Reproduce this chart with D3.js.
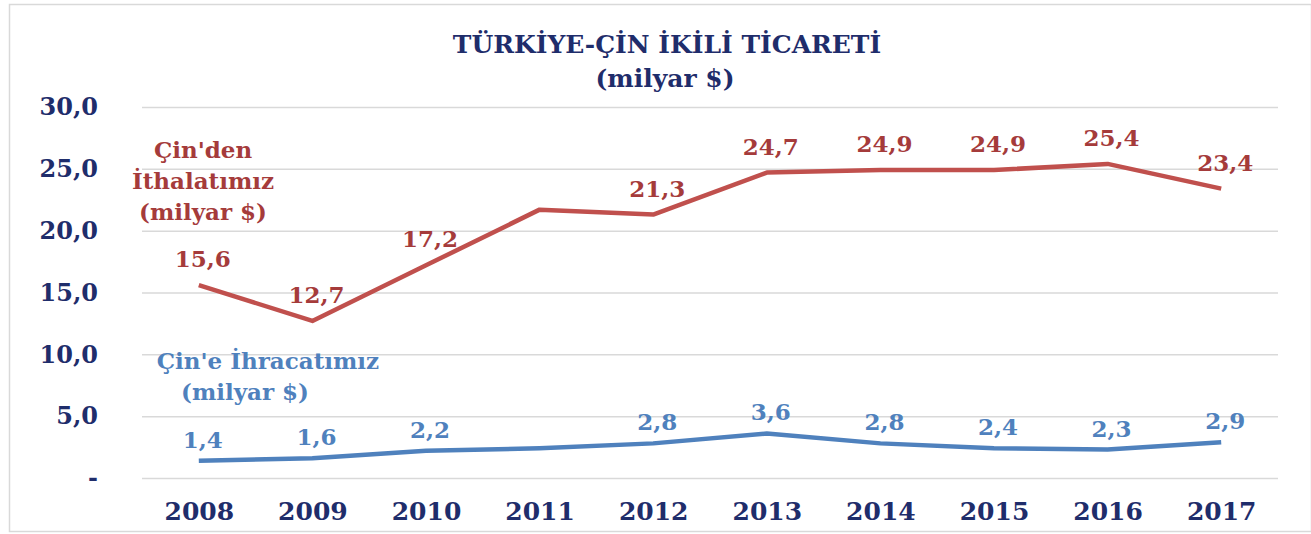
<!DOCTYPE html>
<html>
<head>
<meta charset="utf-8">
<script src="https://cdn.jsdelivr.net/npm/d3@7"></script>
<style>
  body { margin: 0; background: #fff; }
  text { font-family: "DejaVu Serif", "Liberation Serif", serif; font-weight: bold; }
</style>
</head>
<body>
<div id="chart"></div>
<script>
// Veriler
const years = ["2008", "2009", "2010", "2011", "2012", "2013", "2014", "2015", "2016", "2017"];
const imports = [15.6, 12.7, 17.2, 21.7, 21.3, 24.7, 24.9, 24.9, 25.4, 23.4];
const exportsCn = [1.4, 1.6, 2.2, 2.4, 2.8, 3.6, 2.8, 2.4, 2.3, 2.9];
const labelShown = [true, true, true, false, true, true, true, true, true, true];
const yTicks = [0, 5, 10, 15, 20, 25, 30];

const W = 1311, H = 534;
const margin = { top: 107, right: 33, bottom: 56, left: 142 };
const width = W - margin.left - margin.right,
      height = H - margin.top - margin.bottom;

const navy = "#1f2d6b", red = "#c0504d", redText = "#a53b3b", blue = "#4f81bd";

const svg = d3.select("#chart").append("svg")
    .attr("width", W).attr("height", H);

// çerçeve
svg.append("rect")
    .attr("x", 9.5).attr("y", 4.5)
    .attr("width", W - 9).attr("height", 527)
    .attr("fill", "none").attr("stroke", "#d9d9d9").attr("stroke-width", 1.5);

const g = svg.append("g").attr("transform", `translate(${margin.left},${margin.top})`);

const x = d3.scalePoint().domain(years).range([0, width]).padding(0.5);
const y = d3.scaleLinear().domain([0, 30]).range([height, 0]);

const fmt = v => v === 0 ? "-" : d3.format(".1f")(v).replace(".", ",");

// grid + y ekseni
g.append("g")
    .call(d3.axisLeft(y).tickValues(yTicks).tickSize(-width).tickFormat(fmt).tickPadding(44))
    .call(a => a.select(".domain").remove())
    .call(a => a.selectAll("line").attr("stroke", "#d9d9d9").attr("stroke-width", 1.5))
    .call(a => a.selectAll("text")
        .attr("fill", navy).style("font-size", "24px")
        .style("font-family", "DejaVu Serif").style("font-weight", "bold"));

// x ekseni
g.append("g")
    .attr("transform", `translate(0,${height})`)
    .call(d3.axisBottom(x).tickSize(0).tickPadding(24))
    .call(a => a.select(".domain").remove())
    .call(a => a.selectAll("text")
        .attr("fill", navy).style("font-size", "25px")
        .style("font-family", "DejaVu Serif").style("font-weight", "bold"));

const line = d3.line().x((d, i) => x(years[i])).y(d => y(d));

g.append("path").datum(imports)
    .attr("d", line).attr("fill", "none")
    .attr("stroke", red).attr("stroke-width", 4.5).attr("stroke-linejoin", "round");

g.append("path").datum(exportsCn)
    .attr("d", line).attr("fill", "none")
    .attr("stroke", blue).attr("stroke-width", 4.5).attr("stroke-linejoin", "round");

// değer etiketleri (2011 etiketsiz)
const impPts = imports.map((v, i) => ({ v, i })).filter(d => labelShown[d.i]);
const expPts = exportsCn.map((v, i) => ({ v, i })).filter(d => labelShown[d.i]);

g.selectAll(".lab-imp").data(impPts).enter()
    .append("text")
    .attr("class", "lab-imp")
    .attr("x", d => x(years[d.i]) + 4)
    .attr("y", d => y(d.v) - 18)
    .attr("text-anchor", "middle")
    .attr("fill", redText).style("font-size", "23px")
    .text(d => fmt(d.v));

g.selectAll(".lab-exp").data(expPts).enter()
    .append("text")
    .attr("class", "lab-exp")
    .attr("x", d => x(years[d.i]) + 4)
    .attr("y", d => y(d.v) - 13)
    .attr("text-anchor", "middle")
    .attr("fill", blue).style("font-size", "23px")
    .text(d => fmt(d.v));

// başlık
svg.append("text").attr("x", 667).attr("y", 53).attr("text-anchor", "middle")
    .attr("fill", navy).style("font-size", "25px").text("TÜRKİYE-ÇİN İKİLİ TİCARETİ");
svg.append("text").attr("x", 665).attr("y", 87).attr("text-anchor", "middle")
    .attr("fill", navy).style("font-size", "25px").text("(milyar $)");

// seri adları
const impLab = svg.append("text").attr("text-anchor", "middle")
    .attr("fill", redText).style("font-size", "23px");
["Çin'den", "İthalatımız", "(milyar $)"].forEach((t, i) => {
    impLab.append("tspan").attr("x", 203).attr("y", 158 + i * 31).text(t);
});

svg.append("text").attr("x", 268).attr("y", 369).attr("text-anchor", "middle")
    .attr("fill", blue).style("font-size", "23px").text("Çin'e İhracatımız");
svg.append("text").attr("x", 245).attr("y", 400).attr("text-anchor", "middle")
    .attr("fill", blue).style("font-size", "23px").text("(milyar $)");
</script>
</body>
</html>
